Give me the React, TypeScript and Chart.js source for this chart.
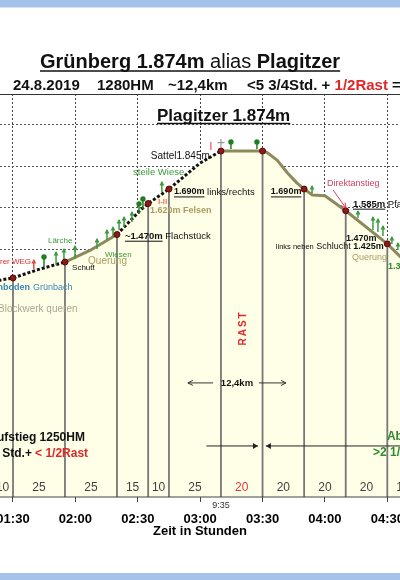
import React, { useEffect, useRef } from 'react';
import { Chart, registerables } from 'chart.js';

Chart.register(...registerables);

const FONT = 'Arial, "Liberation Sans", Helvetica, sans-serif';

// ---- elevation profile (minutes since start, metres) ----
const profileMinutes = [83, 90, 102, 115, 127, 140, 151, 155, 165, 180, 190, 210, 212, 217, 222, 226.5, 230, 234, 240, 250, 270, 277];
const profileElevation = [1248, 1260, 1300, 1337, 1393, 1470, 1585, 1620, 1690, 1816, 1874, 1874, 1868, 1830, 1768, 1720, 1690, 1661, 1658, 1585, 1425, 1355];
// terrain of the segment that starts at each profile point
const segmentTerrain = ['weg', 'weg', 'weg', 'quer', 'quer', 'weg', 'weg', 'weg', 'weg', 'weg', 'quer', 'quer', 'quer', 'quer', 'quer', 'quer', 'quer', 'quer', 'quer', 'quer', 'quer'];

// waypoints (with drop lines) and leg durations
const waypointMinutes = [90, 115, 140, 155, 165, 190, 210, 230, 250, 270];
const legBounds = [80, 90, 115, 140, 155, 165, 190, 210, 230, 250, 270, 285];
const legDurations = [10, 25, 25, 15, 10, 25, 20, 20, 20, 20, 15];
const restLegIndex = 6;
const restStartMinute = 190;
const restStartClock = '9:35';

// axes
const timeTicks = [90, 120, 150, 180, 210, 240, 270];
const elevationGrid = [400, 600, 800, 1000, 1200, 1400, 1600, 1800, 2000];

// vegetation / trail symbols
const treeMinutes = [100.0, 104.9, 110.7, 114.5, 119.8, 130.4, 135.2, 138.1, 141.0, 143.4, 147.2, 150.6, 152.5, 161.6, 194.8, 207.3, 233.8, 255.9, 263.1, 265.5, 267.9, 272.2, 275.1];
const treeElevation = [1303, 1313, 1323, 1337, 1352, 1400, 1444, 1458, 1492, 1507, 1531, 1570, 1594, 1676, 1884, 1884, 1671, 1550, 1492, 1482, 1463, 1424, 1395];
const treeKind = ['wegzeichen', 'kugel', 'lärche', 'lärche', 'lärche', 'baum', 'baum', 'baum', 'baum', 'baum', 'baum', 'kugel', 'kugel', 'baum', 'kugelklein', 'kugelklein', 'busch', 'busch', 'lärche', 'lärche', 'baum', 'busch', 'busch'];

const BLACK = '#111';
const GREEN = '#3a9a3a';
const DGREEN = '#2e8b2e';
const KHAKI = '#a89c62';
const RED = '#e02828';
const CRIMSON = '#d2405c';
const BLUE = '#3a86b8';

type Part = { text: string; size: number; color?: string; bold?: boolean; ul?: boolean };
type Note = { t: number; e: number; align: 'left' | 'right' | 'center'; parts: Part[]; rotate?: boolean; spacing?: number };

const notes: Note[] = [
  { t: 156.3, e: 1850, align: 'left', parts: [{ text: 'Sattel1.845m', size: 10 }] },
  { t: 185.2, e: 1894, align: 'center', parts: [{ text: 'I', size: 10, color: RED }] },
  { t: 147.7, e: 1773, align: 'left', parts: [{ text: 'steile Wiese', size: 9.5, color: GREEN }] },
  { t: 167.4, e: 1676, align: 'left', parts: [{ text: '1.690m', size: 9, bold: true, ul: true }, { text: ' links/rechts', size: 9.5 }] },
  { t: 159.7, e: 1627, align: 'left', parts: [{ text: 'I-II', size: 8, color: RED }] },
  { t: 155.9, e: 1584, align: 'left', parts: [{ text: '1.620m Felsen', size: 9, bold: true, color: KHAKI }] },
  { t: 143.8, e: 1463, align: 'left', parts: [{ text: '~1.470m', size: 9.5, bold: true, ul: true }, { text: ' Flachstück', size: 9.5 }] },
  { t: 106.8, e: 1439, align: 'left', parts: [{ text: 'Lärche', size: 8, color: GREEN }] },
  { t: 134.2, e: 1371, align: 'left', parts: [{ text: 'Wiesen', size: 8, color: GREEN }] },
  { t: 126.1, e: 1342, align: 'left', parts: [{ text: 'Querung', size: 10, color: KHAKI }] },
  { t: 118.4, e: 1308, align: 'left', parts: [{ text: 'Schutt', size: 8 }] },
  { t: 98.7, e: 1337, align: 'right', parts: [{ text: 'unterer WEG', size: 8, color: RED }] },
  { t: 98.2, e: 1216, align: 'right', parts: [{ text: 'Grünboden', size: 9, bold: true, color: BLUE }] },
  { t: 99.6, e: 1216, align: 'left', parts: [{ text: 'Grünbach', size: 9, color: BLUE }] },
  { t: 82.8, e: 1110, align: 'left', parts: [{ text: 'Blockwerk queren', size: 10, color: '#a9a98e' }] },
  { t: 200.6, e: 1018, align: 'center', rotate: true, spacing: 2, parts: [{ text: 'RAST', size: 10, bold: true, color: RED }] },
  { t: 197.7, e: 752, align: 'center', parts: [{ text: '12,4km', size: 9.5, bold: true }] },
  { t: 214.0, e: 1676, align: 'left', parts: [{ text: '1.690m', size: 9, bold: true, ul: true }] },
  { t: 241.0, e: 1715, align: 'left', parts: [{ text: 'Direktanstieg', size: 9, color: CRIMSON }] },
  { t: 253.5, e: 1618, align: 'left', parts: [{ text: '1.585m', size: 9.5, bold: true, ul: true }, { text: ' Pfad', size: 9.5 }] },
  { t: 250.1, e: 1453, align: 'left', parts: [{ text: '1.470m', size: 9, bold: true }] },
  { t: 216.4, e: 1410, align: 'left', parts: [{ text: 'links neben', size: 7.5 }, { text: ' Schlucht', size: 9 }, { text: ' 1.425m', size: 9, bold: true }] },
  { t: 253.0, e: 1357, align: 'left', parts: [{ text: 'Querung', size: 9, color: KHAKI }] },
  { t: 270.3, e: 1313, align: 'left', parts: [{ text: '1.330m', size: 9, bold: true, color: DGREEN }] },
  { t: 124.6, e: 486, align: 'right', parts: [{ text: 'Aufstieg 1250HM', size: 12, bold: true }] },
  { t: 99.1, e: 408, align: 'right', parts: [{ text: '<3 1/4 Std.+', size: 12, bold: true }] },
  { t: 100.6, e: 408, align: 'left', parts: [{ text: '< 1/2Rast', size: 12, bold: true, color: RED }] },
  { t: 269.8, e: 491, align: 'left', parts: [{ text: 'Abstieg', size: 12, bold: true, color: DGREEN }] },
  { t: 263.1, e: 413, align: 'left', parts: [{ text: '>2 1/4Std.', size: 12, bold: true, color: DGREEN }] },
];

type Pointer = { t1: number; e1: number; t2: number; e2: number; color: string; filled: boolean };
const pointers: Pointer[] = [
  { t1: 186.2, e1: 752, t2: 174.1, e2: 752, color: '#333', filled: false },
  { t1: 208.3, e1: 752, t2: 221.3, e2: 752, color: '#333', filled: false },
  { t1: 243.9, e1: 1686, t2: 250.1, e2: 1598, color: CRIMSON, filled: false },
  { t1: 183, e1: 447, t2: 207.8, e2: 447, color: '#222', filled: true },
  { t1: 278, e1: 447, t2: 211.6, e2: 447, color: '#222', filled: true },
];

const treeSize: Record<string, number> = { lärche: 13, baum: 10, busch: 7, kugel: 10, kugelklein: 7, wegzeichen: 9 };

const fontOf = (p: Part) => `${p.bold ? 'bold ' : ''}${p.size}px ${FONT}`;
const fmtTime = (v: number) => {
  const h = Math.floor(v / 60);
  const m = Math.round(v - h * 60);
  return `${String(h).padStart(2, '0')}:${String(m).padStart(2, '0')}`;
};

function drawParts(ctx: CanvasRenderingContext2D, x: number, y: number, parts: Part[], align: string, baseline: CanvasTextBaseline = 'middle') {
  const widths = parts.map((p) => {
    ctx.font = fontOf(p);
    return ctx.measureText(p.text).width;
  });
  const total = widths.reduce((a, b) => a + b, 0);
  let cx = align === 'left' ? x : align === 'right' ? x - total : x - total / 2;
  ctx.textAlign = 'left';
  ctx.textBaseline = baseline;
  parts.forEach((p, i) => {
    ctx.font = fontOf(p);
    ctx.fillStyle = p.color || BLACK;
    ctx.fillText(p.text, cx, y);
    if (p.ul) {
      const lead = p.text.length - p.text.trimStart().length;
      const off = lead ? ctx.measureText(p.text.slice(0, lead)).width : 0;
      const uy = baseline === 'middle' ? y + p.size * 0.55 : y + 2;
      ctx.strokeStyle = p.color || BLACK;
      ctx.lineWidth = p.size > 14 ? 1.5 : 1;
      ctx.beginPath();
      ctx.moveTo(cx + off, uy);
      ctx.lineTo(cx + widths[i], uy);
      ctx.stroke();
    }
    cx += widths[i];
  });
}

function arrow(ctx: CanvasRenderingContext2D, x1: number, y1: number, x2: number, y2: number, color: string, filled: boolean) {
  const ang = Math.atan2(y2 - y1, x2 - x1);
  const hl = 5;
  const hw = filled ? 3 : 2.5;
  ctx.strokeStyle = color;
  ctx.fillStyle = color;
  ctx.lineWidth = 1;
  ctx.beginPath();
  ctx.moveTo(x1, y1);
  ctx.lineTo(x2, y2);
  ctx.stroke();
  const bx = x2 - hl * Math.cos(ang);
  const by = y2 - hl * Math.sin(ang);
  const nx = -Math.sin(ang) * hw;
  const ny = Math.cos(ang) * hw;
  ctx.beginPath();
  ctx.moveTo(bx + nx, by + ny);
  ctx.lineTo(x2, y2);
  ctx.lineTo(bx - nx, by - ny);
  if (filled) {
    ctx.closePath();
    ctx.fill();
  } else {
    ctx.stroke();
  }
}

const decorPlugin = {
  id: 'profileDecor',
  beforeDraw(chart: any) {
    const { ctx, width, height } = chart;
    ctx.save();
    ctx.fillStyle = '#ffffff';
    ctx.fillRect(0, 0, width, height);
    ctx.restore();
  },
  afterDatasetDraw(chart: any, args: any) {
    if (args.index !== 1) return;
    const { ctx, chartArea: ca } = chart;
    const xs = chart.scales.x;
    const ys = chart.scales.y;
    ctx.save();
    ctx.beginPath();
    ctx.rect(ca.left, ca.top, ca.right - ca.left, ca.bottom - ca.top);
    ctx.clip();
    // drop lines
    ctx.strokeStyle = '#777';
    ctx.lineWidth = 1.8;
    waypointMinutes.forEach((t) => {
      const e = profileElevation[profileMinutes.indexOf(t)];
      const x = xs.getPixelForValue(t);
      const y = ys.getPixelForValue(e);
      ctx.beginPath();
      ctx.moveTo(x, y);
      ctx.lineTo(x, ca.bottom);
      ctx.stroke();
    });
    // vegetation symbols
    treeMinutes.forEach((t, i) => {
      const kind = treeKind[i];
      const h = treeSize[kind];
      const x = xs.getPixelForValue(t);
      const y = ys.getPixelForValue(treeElevation[i]);
      const lolli = kind.startsWith('kugel');
      const col = kind === 'wegzeichen' ? '#e04848' : lolli ? '#1f7f1f' : '#3c9c3c';
      ctx.strokeStyle = col;
      ctx.fillStyle = col;
      ctx.lineWidth = 1.5;
      ctx.beginPath();
      ctx.moveTo(x, y);
      ctx.lineTo(x, y - h);
      ctx.stroke();
      if (lolli) {
        ctx.beginPath();
        ctx.arc(x, y - h, 2.7, 0, Math.PI * 2);
        ctx.fill();
      } else {
        ctx.beginPath();
        ctx.moveTo(x - 2.5, y - h + 3.5);
        ctx.lineTo(x, y - h - 1);
        ctx.lineTo(x + 2.5, y - h + 3.5);
        ctx.closePath();
        ctx.fill();
      }
    });
    ctx.restore();
  },
  afterDraw(chart: any) {
    const { ctx, chartArea: ca, width, height } = chart;
    const xs = chart.scales.x;
    const ys = chart.scales.y;
    ctx.save();

    // plot frame: top border and x axis line
    ctx.strokeStyle = '#333';
    ctx.lineWidth = 1;
    ctx.beginPath();
    ctx.moveTo(ca.left, ca.top + 0.5);
    ctx.lineTo(ca.right, ca.top + 0.5);
    ctx.stroke();
    ctx.strokeStyle = '#444';
    ctx.lineWidth = 1.2;
    ctx.beginPath();
    ctx.moveTo(ca.left, ca.bottom);
    ctx.lineTo(ca.right, ca.bottom);
    ctx.stroke();

    // summit cross above the peak waypoint
    const sx = xs.getPixelForValue(restStartMinute);
    const sy = ys.getPixelForValue(profileElevation[profileMinutes.indexOf(restStartMinute)]);
    ctx.strokeStyle = '#999';
    ctx.lineWidth = 1.2;
    ctx.beginPath();
    ctx.moveTo(sx, sy - 3);
    ctx.lineTo(sx, sy - 12);
    ctx.moveTo(sx - 3.5, sy - 8.5);
    ctx.lineTo(sx + 3.5, sy - 8.5);
    ctx.stroke();

    // notes
    notes.forEach((n) => {
      const x = xs.getPixelForValue(n.t);
      const y = ys.getPixelForValue(n.e);
      if (n.rotate) {
        ctx.save();
        ctx.translate(x, y);
        ctx.rotate(-Math.PI / 2);
        (ctx as any).letterSpacing = `${n.spacing || 0}px`;
        drawParts(ctx, 0, 0, n.parts, 'center');
        (ctx as any).letterSpacing = '0px';
        ctx.restore();
      } else {
        drawParts(ctx, x, y, n.parts, n.align);
      }
    });

    pointers.forEach((p) => {
      arrow(ctx, xs.getPixelForValue(p.t1), ys.getPixelForValue(p.e1), xs.getPixelForValue(p.t2), ys.getPixelForValue(p.e2), p.color, p.filled);
    });

    // leg durations row
    legDurations.forEach((d, i) => {
      const x = xs.getPixelForValue((legBounds[i] + legBounds[i + 1]) / 2);
      drawParts(ctx, x, ca.bottom - 9, [{ text: String(d), size: 12, color: i === restLegIndex ? '#d83a3a' : '#404040' }], 'center');
    });
    drawParts(ctx, xs.getPixelForValue(restStartMinute), ca.bottom + 9, [{ text: restStartClock, size: 9, color: '#333' }], 'center');

    // titles
    const titleParts: Part[] = [
      { text: 'Grünberg 1.874m', size: 20, bold: true },
      { text: ' alias ', size: 20 },
      { text: 'Plagitzer', size: 20, bold: true },
    ];
    drawParts(ctx, 40, 68, titleParts, 'left', 'alphabetic');
    let tw = 0;
    titleParts.forEach((p) => {
      ctx.font = fontOf(p);
      tw += ctx.measureText(p.text).width;
    });
    ctx.strokeStyle = BLACK;
    ctx.lineWidth = 1.5;
    ctx.beginPath();
    ctx.moveTo(40, 71);
    ctx.lineTo(40 + tw, 71);
    ctx.stroke();

    drawParts(ctx, 13, 90, [{ text: '24.8.2019', size: 15, bold: true }], 'left', 'alphabetic');
    drawParts(ctx, 97, 90, [{ text: '1280HM', size: 15, bold: true }], 'left', 'alphabetic');
    drawParts(ctx, 168, 90, [{ text: '~12,4km', size: 15, bold: true }], 'left', 'alphabetic');
    drawParts(ctx, 247, 90, [
      { text: '<5 3/4Std. + ', size: 15, bold: true },
      { text: '1/2Rast', size: 15, bold: true, color: RED },
      { text: ' = 6 1/4Std.', size: 15, bold: true },
    ], 'left', 'alphabetic');

    drawParts(ctx, 157, 121, [{ text: 'Plagitzer 1.874m', size: 17, bold: true }], 'left', 'alphabetic');
    ctx.font = `bold 17px ${FONT}`;
    const pw = ctx.measureText('Plagitzer 1.874m').width;
    ctx.strokeStyle = BLACK;
    ctx.lineWidth = 1.3;
    ctx.beginPath();
    ctx.moveTo(157, 123.5);
    ctx.lineTo(157 + pw, 123.5);
    ctx.stroke();

    // window frame bands
    ctx.fillStyle = '#a5c3ea';
    ctx.fillRect(0, 0, width, 7);
    ctx.fillRect(0, height - 7, width, 7);
    ctx.fillStyle = '#d6e3f5';
    ctx.fillRect(0, 7, width, 1);
    ctx.restore();
  },
};

export default function App() {
  const ref = useRef<HTMLCanvasElement>(null);

  useEffect(() => {
    const canvas = ref.current;
    if (!canvas) return;
    const profile = profileMinutes.map((t, i) => ({ x: t, y: profileElevation[i] }));
    const markers = waypointMinutes.map((t) => ({ x: t, y: profileElevation[profileMinutes.indexOf(t)] }));

    const chart = new Chart(canvas, {
      type: 'line',
      data: {
        datasets: [
          {
            label: 'Wegpunkte',
            data: markers,
            showLine: false,
            pointRadius: 3,
            pointBackgroundColor: '#8b1a1a',
            pointBorderColor: '#5a0808',
            pointBorderWidth: 1,
          },
          {
            label: 'Höhenprofil',
            data: profile,
            borderWidth: 3,
            borderColor: '#8c8a5a',
            backgroundColor: '#ffffe8',
            fill: 'start',
            pointRadius: 0,
            tension: 0,
            borderJoinStyle: 'round',
            segment: {
              borderColor: (c: any) => (segmentTerrain[c.p0DataIndex] === 'weg' ? '#111111' : '#8c8a5a'),
              borderDash: (c: any) => (segmentTerrain[c.p0DataIndex] === 'weg' ? [3, 2] : []),
            },
          },
        ],
      },
      options: {
        responsive: false,
        maintainAspectRatio: false,
        devicePixelRatio: 1,
        animation: false,
        events: [],
        layout: { autoPadding: false, padding: { top: 94, left: 0, right: 0, bottom: 0 } },
        plugins: {
          legend: { display: false },
          tooltip: { enabled: false },
          title: { display: false },
        },
        scales: {
          x: {
            type: 'linear',
            min: 83.75,
            max: 276.1,
            afterBuildTicks: (s: any) => {
              s.ticks = timeTicks.map((v) => ({ value: v }));
            },
            afterFit: (s: any) => {
              s.height = 83;
              s.paddingLeft = 0;
              s.paddingRight = 0;
            },
            ticks: {
              autoSkip: false,
              maxRotation: 0,
              minRotation: 0,
              padding: 10,
              color: '#000',
              font: { family: FONT, size: 13, weight: 'bold' },
              callback: (v: any) => fmtTime(Number(v)),
            },
            grid: {
              color: '#444',
              lineWidth: 1,
              drawTicks: true,
              tickLength: 5,
              tickColor: '#444',
              tickWidth: 1,
              tickBorderDash: [],
            },
            border: { display: false, dash: [2, 2] },
            title: {
              display: true,
              text: 'Zeit in Stunden',
              color: '#000',
              font: { family: FONT, size: 13, weight: 'bold' },
              padding: { top: 0, bottom: 41 },
            },
          },
          y: {
            type: 'linear',
            min: 200,
            max: 2150,
            afterBuildTicks: (s: any) => {
              s.ticks = elevationGrid.map((v) => ({ value: v }));
            },
            afterFit: (s: any) => {
              s.width = 0;
              s.paddingTop = 0;
              s.paddingBottom = 0;
            },
            ticks: { display: false },
            grid: { color: '#555', lineWidth: 1, drawTicks: false },
            border: { display: false, dash: [2, 2] },
          },
        },
      },
      plugins: [decorPlugin],
    } as any);

    return () => chart.destroy();
  }, []);

  return (
    <div style={{ position: 'fixed', left: 0, top: 0, width: 400, height: 580, background: '#fff' }}>
      <canvas ref={ref} width={400} height={580} style={{ display: 'block', width: 400, height: 580 }} />
    </div>
  );
}
